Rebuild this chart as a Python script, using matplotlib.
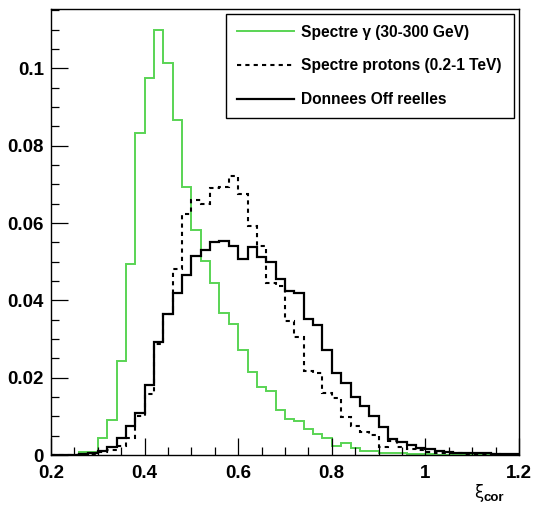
import matplotlib
matplotlib.use("Agg")
import matplotlib.pyplot as plt
from matplotlib.ticker import MultipleLocator
import numpy as np

# histogram binning (50 bins of 0.02)
x_lo, x_hi, n_bins = 0.2, 1.2, 50

gamma = [0, 0, 0, 0.0008, 0.0008, 0.0043, 0.0091, 0.0243, 0.0495, 0.0832,
         0.0975, 0.1100, 0.1015, 0.0867, 0.0694, 0.0582, 0.0503, 0.0446, 0.0367, 0.0338,
         0.0272, 0.0215, 0.0176, 0.0165, 0.0116, 0.0092, 0.0089, 0.0066, 0.0054, 0.0045,
         0.0023, 0.0032, 0.0017, 0.0010, 0.0010, 0.0005, 0.0005, 0.0004, 0.0002, 0.0002,
         0.0002, 0.0001, 0, 0, 0, 0, 0, 0, 0, 0]

protons = [0, 0, 0.0001, 0.0002, 0.0003, 0.0008, 0.0013, 0.0022, 0.0045, 0.0101,
           0.0158, 0.0287, 0.0364, 0.0480, 0.0623, 0.0660, 0.0649, 0.0690, 0.0693, 0.0723,
           0.0675, 0.0592, 0.0541, 0.0444, 0.0437, 0.0346, 0.0306, 0.0217, 0.0211, 0.0160,
           0.0147, 0.0098, 0.0074, 0.0060, 0.0051, 0.0021, 0.0035, 0.0021, 0.0016, 0.0014,
           0.0009, 0.0006, 0.0005, 0.0004, 0.0003, 0.0003, 0.0002, 0.0002, 0.0001, 0.0001]

off_data = [0, 0, 0.0001, 0.0003, 0.0006, 0.0010, 0.0020, 0.0045, 0.0074, 0.0109,
            0.0182, 0.0293, 0.0365, 0.0420, 0.0466, 0.0515, 0.0530, 0.0552, 0.0554, 0.0541,
            0.0506, 0.0537, 0.0512, 0.0498, 0.0456, 0.0425, 0.0419, 0.0351, 0.0337, 0.0271,
            0.0211, 0.0187, 0.0150, 0.0126, 0.0102, 0.0072, 0.0042, 0.0034, 0.0026, 0.0019,
            0.0015, 0.0010, 0.0007, 0.0006, 0.0005, 0.0004, 0.0004, 0.0003, 0.0003, 0.0002]

labels = ["Spectre \u03b3 (30-300 GeV)",
          "Spectre protons (0.2-1 TeV)",
          "Donnees Off reelles"]

plt.rcParams['font.family'] = ['Liberation Sans', 'DejaVu Sans']
plt.rcParams['font.weight'] = 'bold'

edges = np.linspace(x_lo, x_hi, n_bins + 1)

fig = plt.figure(figsize=(5.34, 5.05), dpi=100)
ax = fig.add_axes([51 / 534, 1 - 455 / 505, 468 / 534, 446.5 / 505])

ax.stairs(gamma, edges, color='#59d454', linewidth=1.4, label=labels[0])
ax.stairs(protons, edges, color='black', linewidth=1.5,
          linestyle=(0, (2, 2)), label=labels[1])
ax.stairs(off_data, edges, color='black', linewidth=1.6, label=labels[2])

ax.set_xlim(x_lo, x_hi)
ax.set_ylim(0, 0.1155)

ax.xaxis.set_minor_locator(MultipleLocator(0.05))
ax.yaxis.set_minor_locator(MultipleLocator(0.005))

xt = [0.2, 0.4, 0.6, 0.8, 1.0, 1.2]
ax.set_xticks(xt)
ax.set_xticklabels(['0.2', '0.4', '0.6', '0.8', '1', '1.2'])
yt = [0, 0.02, 0.04, 0.06, 0.08, 0.1]
ax.set_yticks(yt)
ax.set_yticklabels(['0', '0.02', '0.04', '0.06', '0.08', '0.1'])

ax.tick_params(which='both', direction='in', top=False, right=False,
               width=0.9, labelsize=13.5)
ax.tick_params(which='major', length=12)
ax.tick_params(which='minor', length=6)
ax.tick_params(axis='x', pad=7)
ax.tick_params(axis='y', pad=5)
for s in ax.spines.values():
    s.set_linewidth(1.0)

leg = ax.legend(loc='upper left', bbox_to_anchor=(0.374, 0.75, 0.615, 0.238),
                mode='expand', fontsize=11.2, frameon=True, fancybox=False,
                edgecolor='black', framealpha=1, handlelength=3.7,
                handletextpad=0.4, labelspacing=1.2, borderpad=0.7,
                borderaxespad=0)
leg.get_frame().set_linewidth(1.0)

# axis title: xi with bold subscript "cor"
fig.text(483 / 534, 1 - 498.5 / 505, '\u03be', family='DejaVu Sans',
         fontweight='normal', fontsize=12, ha='right', va='baseline')
fig.text(483.5 / 534, 1 - 501 / 505, 'cor', fontweight='bold',
         fontsize=9.5, ha='left', va='baseline')

fig.savefig('out.png', dpi=100)
